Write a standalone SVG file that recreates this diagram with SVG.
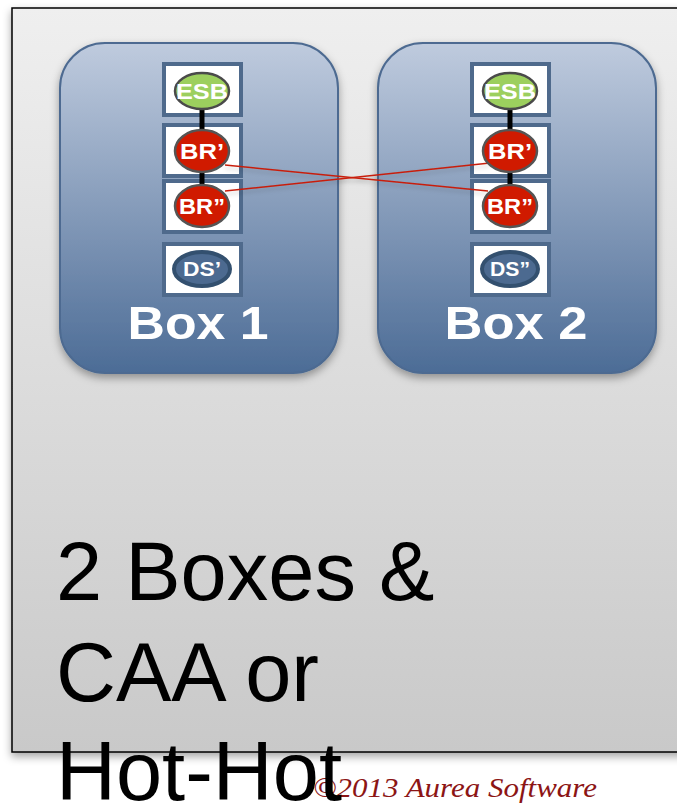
<svg xmlns="http://www.w3.org/2000/svg" width="677" height="804" viewBox="0 0 677 804">
<defs>
<linearGradient id="bg" x1="0" y1="0" x2="0" y2="1"><stop offset="0" stop-color="#efefef"/><stop offset="1" stop-color="#c9c9c9"/></linearGradient>
<linearGradient id="boxg" x1="0" y1="0" x2="0" y2="1"><stop offset="0" stop-color="#bfcbde"/><stop offset="1" stop-color="#4c6c96"/></linearGradient>
<filter id="sh" x="-10%" y="-10%" width="130%" height="130%"><feDropShadow dx="0" dy="4" stdDeviation="4" flood-color="#000" flood-opacity="0.35"/></filter>
<filter id="lsh" x="-10%" y="-50%" width="120%" height="200%"><feDropShadow dx="0" dy="3" stdDeviation="2" flood-color="#000" flood-opacity="0.2"/></filter>
<style>
.box{fill:url(#boxg);stroke:#4d6b91;stroke-width:2;}
.cell{fill:#fff;stroke:#4f6a8c;stroke-width:4;}
.esb{fill:#9ccf5e;stroke:#4a4a4a;stroke-width:2.5;}
.br{fill:#d01a00;stroke:#555;stroke-width:2.5;}
.ds{fill:#4c6a90;stroke:#33506f;stroke-width:4;}
.lbl{font-family:"Liberation Sans",Arial,sans-serif;font-weight:bold;fill:#fff;text-anchor:middle;}
.big{font-family:"Liberation Sans",Arial,sans-serif;font-size:83px;fill:#000;}
.vl{stroke:#000;stroke-width:5;}
.rl{stroke:#c81e0a;stroke-width:1.4;fill:none;}
</style>
</defs>
<rect x="12" y="8" width="680" height="744" fill="url(#bg)" stroke="#000" stroke-width="1.5" filter="url(#sh)"/>
<g id="box1">
<rect class="box" x="60" y="43" width="278" height="330" rx="45" filter="url(#sh)"/>
<text class="lbl" x="198" y="339" font-size="46" textLength="141" lengthAdjust="spacingAndGlyphs">Box 1</text>
</g>
<g id="box2">
<rect class="box" x="378" y="43" width="278" height="330" rx="45" filter="url(#sh)"/>
<text class="lbl" x="516" y="339" font-size="46" textLength="143" lengthAdjust="spacingAndGlyphs">Box 2</text>
</g>
<g id="cells1">
<rect class="cell" x="164" y="64" width="77" height="51"/>
<rect class="cell" x="164" y="125" width="77" height="51"/>
<rect class="cell" x="164" y="181" width="77" height="51"/>
<rect class="cell" x="164" y="244" width="77" height="51"/>
</g>
<g id="cells2">
<rect class="cell" x="472" y="64" width="77" height="51"/>
<rect class="cell" x="472" y="125" width="77" height="51"/>
<rect class="cell" x="472" y="181" width="77" height="51"/>
<rect class="cell" x="472" y="244" width="77" height="51"/>
</g>
<g id="connectors">
<line class="vl" x1="202" y1="108" x2="202" y2="132"/>
<line class="vl" x1="202" y1="170" x2="202" y2="186"/>
<line class="vl" x1="510" y1="108" x2="510" y2="132"/>
<line class="vl" x1="510" y1="170" x2="510" y2="186"/>
<g filter="url(#lsh)">
<line class="rl" x1="225" y1="165" x2="488" y2="191"/>
<line class="rl" x1="225" y1="191" x2="490" y2="163"/>
</g>
</g>
<g id="esb1"><ellipse class="esb" cx="202" cy="91" rx="27" ry="18"/><text class="lbl" x="202" y="99" font-size="22" textLength="52" lengthAdjust="spacingAndGlyphs">ESB</text></g>
<g id="br1a"><ellipse class="br" cx="202" cy="151" rx="27" ry="21"/><text class="lbl" x="202" y="159" font-size="22" textLength="44" lengthAdjust="spacingAndGlyphs">BR’</text></g>
<g id="br1b"><ellipse class="br" cx="202" cy="206" rx="27" ry="21"/><text class="lbl" x="202" y="214" font-size="22" textLength="46" lengthAdjust="spacingAndGlyphs">BR”</text></g>
<g id="ds1"><ellipse class="ds" cx="202" cy="269" rx="28" ry="17"/><text class="lbl" x="202" y="276" font-size="20" textLength="38" lengthAdjust="spacingAndGlyphs">DS’</text></g>
<g id="esb2"><ellipse class="esb" cx="510" cy="91" rx="27" ry="18"/><text class="lbl" x="510" y="99" font-size="22" textLength="52" lengthAdjust="spacingAndGlyphs">ESB</text></g>
<g id="br2a"><ellipse class="br" cx="510" cy="151" rx="27" ry="21"/><text class="lbl" x="510" y="159" font-size="22" textLength="44" lengthAdjust="spacingAndGlyphs">BR’</text></g>
<g id="br2b"><ellipse class="br" cx="510" cy="206" rx="27" ry="21"/><text class="lbl" x="510" y="214" font-size="22" textLength="46" lengthAdjust="spacingAndGlyphs">BR”</text></g>
<g id="ds2"><ellipse class="ds" cx="510" cy="269" rx="28" ry="17"/><text class="lbl" x="510" y="276" font-size="20" textLength="40" lengthAdjust="spacingAndGlyphs">DS”</text></g>
<text x="313" y="797" font-family="'Liberation Serif','Times New Roman',serif" font-style="italic" font-size="27" fill="#8c1515" textLength="284" lengthAdjust="spacingAndGlyphs">©2013 Aurea Software</text>
<g id="title">
<text class="big" x="56" y="600">2 Boxes &amp;</text>
<text class="big" x="56" y="701">CAA or</text>
<text class="big" x="56" y="800">Hot-Hot</text>
</g>
</svg>
